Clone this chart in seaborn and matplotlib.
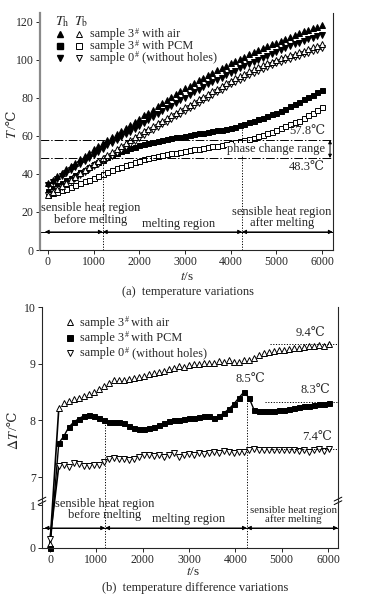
import numpy as np
import matplotlib
matplotlib.use('Agg')
import matplotlib.pyplot as plt
import seaborn as sns
from matplotlib.transforms import blended_transform_factory as btf

sns.set_style('ticks')
plt.rcParams['font.family'] = ['Liberation Serif', 'DejaVu Serif']
plt.rcParams['mathtext.fontset'] = 'stix'
plt.rcParams['axes.linewidth'] = 0.8

# ---------------- data: panel (a), every 100 s ----------------
th_air = [35.0, 36.9, 38.7, 40.6, 42.3, 44.0, 45.9, 47.6, 49.4, 51.2,
          53.0, 54.7, 56.3, 57.8, 59.4, 61.0, 62.7, 64.2, 65.8, 67.4,
          69.0, 70.7, 72.2, 73.8, 75.4, 77.0, 78.7, 80.2, 81.8, 83.4,
          85.0, 86.4, 87.8, 89.3, 90.6, 92.0, 93.2, 94.5, 95.6, 96.8,
          98.0, 99.2, 100.4, 101.6, 102.8, 104.0, 105.0, 106.0, 107.1, 108.0,
          109.0, 110.0, 111.0, 112.0, 113.0, 114.0, 114.8, 115.6, 116.4, 117.2, 118.0]
tb_air = [29.0, 30.6, 32.2, 33.8, 35.4, 37.0, 38.6, 40.2, 41.8, 43.4,
          45.0, 46.6, 48.2, 49.8, 51.4, 53.0, 54.6, 56.2, 57.8, 59.4,
          61.0, 62.4, 63.8, 65.2, 66.6, 68.0, 69.4, 70.8, 72.2, 73.6,
          75.0, 76.4, 77.8, 79.2, 80.6, 82.0, 83.4, 84.8, 86.2, 87.6,
          89.0, 90.2, 91.4, 92.6, 93.8, 95.0, 96.0, 97.0, 98.0, 99.0,
          100.0, 100.8, 101.6, 102.4, 103.2, 104.0, 104.8, 105.6, 106.4, 107.2, 108.0]
th_pcm = [31.0, 32.5, 33.9, 35.3, 36.7, 38.0, 39.4, 40.8, 42.2, 43.6,
          45.0, 46.3, 47.5, 48.7, 49.9, 51.0, 51.9, 52.7, 53.5, 54.3,
          55.0, 55.6, 56.2, 56.8, 57.4, 58.0, 58.4, 58.8, 59.2, 59.6,
          60.0, 60.4, 60.8, 61.2, 61.6, 62.0, 62.4, 62.8, 63.2, 63.6,
          64.0, 64.7, 65.5, 66.3, 67.1, 68.0, 68.8, 69.6, 70.4, 71.2,
          72.0, 73.1, 74.3, 75.5, 76.8, 78.0, 79.2, 80.4, 81.6, 82.8, 84.0]
tb_pcm = [29.0, 29.8, 30.6, 31.4, 32.2, 33.0, 34.0, 35.0, 36.0, 37.0,
          38.0, 39.0, 40.0, 41.0, 42.0, 43.0, 43.8, 44.6, 45.4, 46.2,
          47.0, 47.6, 48.2, 48.8, 49.4, 50.0, 50.4, 50.8, 51.2, 51.6,
          52.0, 52.4, 52.8, 53.2, 53.6, 54.0, 54.4, 54.8, 55.2, 55.6,
          56.0, 56.6, 57.2, 57.8, 58.4, 59.0, 59.8, 60.6, 61.4, 62.2,
          63.0, 64.0, 65.0, 66.0, 67.0, 68.0, 69.4, 70.8, 72.2, 73.6, 75.0]
th_0 = [34.0, 35.6, 37.3, 38.9, 40.5, 42.0, 43.7, 45.3, 46.9, 48.4,
        50.0, 51.7, 53.3, 54.9, 56.4, 58.0, 59.4, 60.8, 62.2, 63.6,
        65.0, 66.6, 68.2, 69.8, 71.4, 73.0, 74.4, 75.8, 77.2, 78.6,
        80.0, 81.4, 82.8, 84.2, 85.6, 87.0, 88.2, 89.4, 90.6, 91.8,
        93.0, 94.2, 95.4, 96.6, 97.8, 99.0, 100.0, 101.0, 102.0, 103.0,
        104.0, 105.0, 106.0, 107.0, 108.0, 109.0, 109.8, 110.6, 111.4, 112.2, 113.0]
tb_0 = [29.0, 30.4, 31.8, 33.2, 34.6, 36.0, 37.6, 39.2, 40.8, 42.4,
        44.0, 45.4, 46.8, 48.2, 49.6, 51.0, 52.6, 54.2, 55.8, 57.4,
        59.0, 60.4, 61.8, 63.2, 64.6, 66.0, 67.4, 68.8, 70.2, 71.6,
        73.0, 74.4, 75.8, 77.2, 78.6, 80.0, 81.4, 82.8, 84.2, 85.6,
        87.0, 88.2, 89.4, 90.6, 91.8, 93.0, 94.0, 95.0, 96.0, 97.0,
        98.0, 98.8, 99.6, 100.4, 101.2, 102.0, 102.8, 103.6, 104.4, 105.2, 106.0]

# ---------------- data: panel (b) ----------------
d_air = [0.10, 8.22, 8.31, 8.35, 8.38, 8.40, 8.43, 8.46, 8.50, 8.56, 8.60,
         8.66, 8.72, 8.72, 8.72, 8.73, 8.75, 8.77, 8.79, 8.81, 8.83,
         8.85, 8.87, 8.90, 8.92, 8.96, 8.95, 8.98, 9.00, 9.00, 9.01,
         9.02, 9.02, 9.04, 9.03, 9.07, 9.03, 9.03, 9.06, 9.06, 9.10,
         9.15, 9.19, 9.21, 9.23, 9.24, 9.25, 9.26, 9.27, 9.28, 9.29,
         9.31, 9.32, 9.33, 9.32, 9.34]
d_pcm = [0.00, 7.60, 7.72, 7.88, 7.97, 8.03, 8.08, 8.10, 8.08, 8.04, 8.00,
         7.97, 7.97, 7.97, 7.95, 7.90, 7.86, 7.84, 7.84, 7.86, 7.88,
         7.92, 7.95, 7.98, 8.00, 8.01, 8.03, 8.04, 8.05, 8.06, 8.07,
         8.07, 8.04, 8.07, 8.13, 8.20, 8.29, 8.40, 8.50, 8.40, 8.19,
         8.16, 8.16, 8.17, 8.17, 8.18, 8.19, 8.20, 8.21, 8.23, 8.25,
         8.26, 8.27, 8.28, 8.29, 8.31]
d_0 = [0.20, 7.20, 7.21, 7.18, 7.25, 7.23, 7.20, 7.20, 7.22, 7.22, 7.27,
       7.31, 7.34, 7.32, 7.31, 7.30, 7.32, 7.36, 7.39, 7.38, 7.37,
       7.38, 7.36, 7.38, 7.42, 7.35, 7.38, 7.41, 7.39, 7.42, 7.40,
       7.43, 7.45, 7.43, 7.46, 7.44, 7.43, 7.45, 7.44, 7.47, 7.49,
       7.48, 7.47, 7.48, 7.47, 7.48, 7.48, 7.47, 7.48, 7.46, 7.48,
       7.44, 7.47, 7.49, 7.46, 7.50]

# legend labels: (text before superscript '#', text after it)
labels = [('sample 3', ' with air'), ('sample 3', ' with PCM'),
          ('sample 0', ' (without holes)')]
xticks = [0, 1000, 2000, 3000, 4000, 5000, 6000]


def t_top(v):
    return 100 * np.arange(len(v))


def t_bot(v):
    return np.concatenate([[0], 190 + 108 * np.arange(len(v) - 1)])


def marks(ax, t, v, marker, filled, ms):
    sns.lineplot(x=t, y=v, ax=ax, color='k', marker=marker, markersize=ms,
                 markerfacecolor='k' if filled else 'white', markeredgecolor='k',
                 markeredgewidth=0.7, linestyle='none', estimator=None,
                 sort=False, legend=False, clip_on=False)


def line(ax, t, v, lw):
    sns.lineplot(x=t, y=v, ax=ax, color='k', linewidth=lw, estimator=None,
                 sort=False, legend=False, clip_on=False)


def sup_label(ax, x, y, pre, post, fs):
    """'pre' + superscript '#' + 'post', chained plain texts (baseline at y)."""
    t1 = ax.text(x, y, pre, transform=ax.transAxes, ha='left', va='baseline', fontsize=fs)
    desc = 0.217 * fs
    t2 = ax.annotate('#', xy=(1, 0), xycoords=t1, xytext=(0.4, desc + 2.6),
                     textcoords='offset points', ha='left', va='baseline',
                     fontsize=fs * 0.66, annotation_clip=False)
    ax.annotate(post, xy=(1, 0), xycoords=(t2, t1), xytext=(0, 0),
                textcoords='offset points', ha='left', va='bottom', fontsize=fs,
                annotation_clip=False)


FS_TICK = 8.5
fig = plt.figure(figsize=(3.82, 6.0), dpi=100)
ax1 = fig.add_axes([40 / 382, 1 - 250 / 600, 293 / 382, 237 / 600])
ax2 = fig.add_axes([42 / 382, 1 - 548 / 600, 296 / 382, 241 / 600])

# ================= panel (a) =================
ax1.set_xlim(-175, 6240)
ax1.set_ylim(0, 124.5)
marks(ax1, t_top(tb_pcm), tb_pcm, 's', False, 3.6)
marks(ax1, t_top(th_pcm), th_pcm, 's', True, 3.6)
marks(ax1, t_top(tb_0), tb_0, 'v', False, 4.6)
marks(ax1, t_top(tb_air), tb_air, '^', False, 4.6)
marks(ax1, t_top(th_0), th_0, 'v', True, 4.6)
marks(ax1, t_top(th_air), th_air, '^', True, 4.6)

x0, x1 = ax1.get_xlim()
for yv in (57.8, 48.3):
    ax1.plot([x0, x1], [yv, yv], color='k', lw=0.7, ls=(0, (9, 2, 1.5, 2)))
ax1.plot([1200, 1200], [0, 48.3], color='k', lw=0.7, ls=(0, (1.2, 1.6)))
ax1.plot([4250, 4250], [0, 64.0], color='k', lw=0.7, ls=(0, (1.2, 1.6)))
ax1.text(6070, 62.3, '57.8℃', ha='right', va='center', fontsize=9)
ax1.text(6070, 43.5, '48.3℃', ha='right', va='center', fontsize=9)
ax1.text(6070, 53.0, 'phase change range', ha='right', va='center', fontsize=9,
         bbox=dict(facecolor='white', edgecolor='none', pad=0.3))
ax1.annotate('', xy=(6175, 48.3), xytext=(6175, 57.8),
             arrowprops=dict(arrowstyle='<|-|>', lw=0.7, color='k',
                             shrinkA=0, shrinkB=0, mutation_scale=5))

ya = 9.5
ax1.plot([x0, x1], [ya, ya], color='k', lw=0.7)
for a, b in [(-70, 1200), (1200, 4250), (4250, 6235)]:
    ax1.annotate('', xy=(a, ya), xytext=(b, ya),
                 arrowprops=dict(arrowstyle='<|-|>', lw=0.7, color='k',
                                 shrinkA=0, shrinkB=0, mutation_scale=6))
ax1.text(940, 19.0, 'sensible heat region\nbefore melting', ha='center',
         va='center', fontsize=9, linespacing=0.95)
ax1.text(2850, 13.8, 'melting region', ha='center', va='center', fontsize=9)
ax1.text(5120, 17.0, 'sensible heat region\nafter melting', ha='center',
         va='center', fontsize=9, linespacing=0.95)

# legend (a)
T = ax1.transAxes
ax1.text(0.075, 0.962, r'$T_\mathrm{h}$', transform=T, ha='center', va='center', fontsize=10)
ax1.text(0.140, 0.962, r'$T_\mathrm{b}$', transform=T, ha='center', va='center', fontsize=10)
for yf, mk, ms, (pre, post) in zip([0.912, 0.862, 0.812], ['^', 's', 'v'], [5, 4, 5], labels):
    ax1.plot([0.068], [yf], marker=mk, ms=ms, color='k', mec='k', transform=T, ls='none')
    ax1.plot([0.133], [yf], marker=mk, ms=ms, mfc='white', mec='k', mew=0.7,
             transform=T, ls='none')
    sup_label(ax1, 0.171, yf - 0.013, pre, post, 8.8)

ax1.set_yticks([0, 20, 40, 60, 80, 100, 120])
ax1.set_xticks(xticks)
ax1.tick_params(direction='out', length=3, width=0.7, labelsize=FS_TICK, pad=1.5)
ax1.spines['top'].set_visible(False)
ax1.spines['left'].set_color('#8a8a8a')
ax1.spines['left'].set_linewidth(1.6)
ax1.set_xlabel('')
ax1.set_ylabel('')

# ================= panel (b) =================
def fwd(y):
    y = np.asarray(y, dtype=float)
    return np.where(y <= 1, y * 43.0,
                    np.where(y <= 7, 43.0 + (y - 1) * 28.0 / 6.0,
                             71.0 + (y - 7) * 170.0 / 3.0))


def inv(z):
    z = np.asarray(z, dtype=float)
    return np.where(z <= 43, z / 43.0,
                    np.where(z <= 71, 1 + (z - 43) * 6.0 / 28.0,
                             7 + (z - 71) * 3.0 / 170.0))


ax2.set_yscale('function', functions=(fwd, inv))
ax2.set_xlim(-173, 6216)
ax2.set_ylim(0, 10)

line(ax2, t_bot(d_air)[:2], d_air[:2], 1.2)
line(ax2, t_bot(d_0)[:2], d_0[:2], 1.2)
line(ax2, t_bot(d_pcm), d_pcm, 1.0)
marks(ax2, t_bot(d_air), d_air, '^', False, 4.2)
marks(ax2, t_bot(d_0), d_0, 'v', False, 4.2)
marks(ax2, t_bot(d_pcm), d_pcm, 's', True, 3.6)

bx0, bx1 = ax2.get_xlim()
dot = (0, (1.2, 1.6))
ax2.plot([1190, 1190], [0, 7.99], color='k', lw=0.7, ls=dot)
ax2.plot([4250, 4250], [0, 8.52], color='k', lw=0.7, ls=dot)
ax2.plot([4750, bx1], [9.35, 9.35], color='k', lw=0.7, ls=dot)
ax2.plot([4640, bx1], [8.32, 8.32], color='k', lw=0.7, ls=dot)
ax2.plot([4750, bx1], [7.49, 7.49], color='k', lw=0.7, ls=dot)
ax2.text(5612, 9.54, '9.4℃', ha='center', va='center', fontsize=9)
ax2.text(5720, 8.54, '8.3℃', ha='center', va='center', fontsize=9)
ax2.text(4317, 8.73, '8.5℃', ha='center', va='center', fontsize=9)
ax2.text(5763, 7.71, '7.4℃', ha='center', va='center', fontsize=9)

B = btf(ax2.transData, ax2.transAxes)
yb = 0.083
ax2.plot([bx0, bx1], [yb, yb], color='k', lw=0.7, transform=B)
for a, b in [(-120, 1190), (1190, 4250), (4250, 6214)]:
    ax2.annotate('', xy=(a, yb), xytext=(b, yb), xycoords=B, textcoords=B,
                 arrowprops=dict(arrowstyle='<|-|>', lw=0.7, color='k',
                                 shrinkA=0, shrinkB=0, mutation_scale=6))
ax2.text(1170, 0.16, 'sensible heat region\nbefore melting', transform=B,
         ha='center', va='center', fontsize=9, linespacing=0.95)
ax2.text(2980, 0.12, 'melting region', transform=B, ha='center', va='center', fontsize=9)
ax2.text(5250, 0.137, 'sensible heat region\nafter melting', transform=B,
         ha='center', va='center', fontsize=7.8, linespacing=0.95)

# break marks
TA = ax2.transAxes
for xs in (0.0, 1.0):
    for yc in (0.188, 0.203):
        ax2.plot([xs - 0.013, xs + 0.013], [yc - 0.008, yc + 0.008], color='k',
                 lw=0.7, transform=TA, clip_on=False)

# legend (b)
for yf, mk, ms, fill, (pre, post) in zip([0.936, 0.873, 0.810], ['^', 's', 'v'],
                                         [4.5, 3.8, 4.5], [False, True, False], labels):
    ax2.plot([0.095], [yf], marker=mk, ms=ms, mfc='k' if fill else 'white', mec='k',
             mew=0.7, transform=TA, ls='none')
    sup_label(ax2, 0.128, yf - 0.013, pre, post, 8.8)

ax2.yaxis.set_major_locator(matplotlib.ticker.FixedLocator([0, 1, 7, 8, 9, 10]))
ax2.yaxis.set_minor_locator(matplotlib.ticker.NullLocator())
ax2.yaxis.set_major_formatter(matplotlib.ticker.FixedFormatter(['0', '1', '7', '8', '9', '10']))
ax2.set_xticks(xticks)
ax2.tick_params(direction='out', length=3, width=0.7, labelsize=FS_TICK, pad=1.5)
ax2.spines['top'].set_visible(False)
ax2.set_xlabel('')
ax2.set_ylabel('')

# axis titles / captions (italic symbol + unit as two chained texts)
ty = fig.text(13 / 382, 1 - 134 / 600, r'$T$', rotation=90, ha='center', va='center', fontsize=10)
ax1.annotate('/℃', xy=(0.5, 1.0), xycoords=ty, ha='center', va='bottom', rotation=90,
             fontsize=9.5, annotation_clip=False)
td = fig.text(14 / 382, 1 - 440 / 600, r'$\Delta T$', rotation=90, ha='center', va='center', fontsize=10)
ax2.annotate('/℃', xy=(0.5, 1.0), xycoords=td, ha='center', va='bottom', rotation=90,
             fontsize=9.5, annotation_clip=False)
fig.text(187 / 382, 1 - 277 / 600, r'$t$/s', ha='center', va='center', fontsize=9.5)
fig.text(188 / 382, 1 - 292 / 600, '(a)  temperature variations', ha='center', va='center', fontsize=9)
fig.text(193 / 382, 1 - 572 / 600, r'$t$/s', ha='center', va='center', fontsize=9.5)
fig.text(195 / 382, 1 - 588 / 600, '(b)  temperature difference variations', ha='center', va='center', fontsize=9)

fig.savefig('out.png', dpi=100)
